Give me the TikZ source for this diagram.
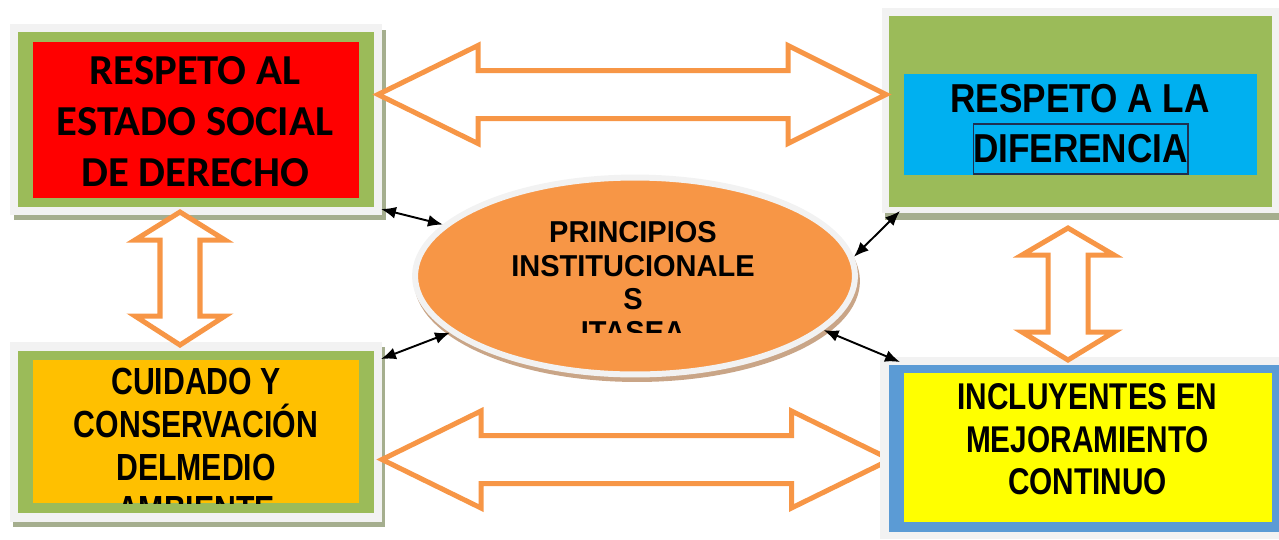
\documentclass[tikz,border=0pt]{standalone}
\usepackage{fontspec}
\setmainfont{Liberation Sans}
\newfontfamily\calibri{Carlito}
\newfontfamily\estrecha[FakeStretch=0.8]{Liberation Sans}
\newfontfamily\estrechados[FakeStretch=0.87]{Liberation Sans}
\newfontfamily\ovalada[FakeStretch=0.96]{Liberation Sans}
\usetikzlibrary{arrows.meta,shapes.geometric}

\definecolor{naranja}{HTML}{F79646}
\definecolor{verde}{HTML}{9BBB59}
\definecolor{grisclaro}{HTML}{F2F2F2}
\definecolor{sombra}{HTML}{A5AE8E}
\definecolor{sombraoval}{HTML}{C9A587}
\definecolor{rojo}{HTML}{FF0000}
\definecolor{celeste}{HTML}{00B0F0}
\definecolor{ambar}{HTML}{FFC000}
\definecolor{amarillo}{HTML}{FFFF00}
\definecolor{azulborde}{HTML}{5B9BD5}
\definecolor{azuloscuro}{HTML}{1F3050}
\newcommand{\pu}{0.569pt}

\begin{document}
\begin{tikzpicture}[x=0.02cm, y=-0.02cm,
  flecha/.style={draw=naranja, line width=2.85pt, fill=white, line join=miter},
  conector/.style={{Latex[length=8.5pt,width=6.8pt]}-{Latex[length=8.5pt,width=6.8pt]}, line width=1.1pt},
  texto/.style={inner sep=0pt, align=center, text=black}]
\useasboundingbox (0,0) rectangle (1279,539);

% respeto al estado social de derecho
\fill[sombra] (14,30) rectangle (386,220);
\fill[grisclaro] (10,24) rectangle (382,215);
\fill[verde] (18,32) rectangle (374,207);
\fill[rojo] (33,42) rectangle (359,198);
\node[texto, font=\calibri\bfseries\fontsize{24.3}{29}\selectfont] (derecho) at (195,121.5) {RESPETO AL\\ESTADO SOCIAL\\DE DERECHO};

% respeto a la diferencia
\fill[sombra] (885,14) rectangle (1279,220);
\fill[grisclaro] (882,8) rectangle (1279,213);
\fill[verde] (889,16) rectangle (1272,207);
\fill[celeste] (904,74) rectangle (1257,175);
\node[texto, font=\estrechados\bfseries\fontsize{23}{29}\selectfont] (respeto) at (1080,99) {RESPETO A LA};
\node[texto, draw=azuloscuro, line width=0.6pt, minimum width=215*\pu, minimum height=50*\pu,
  font=\estrechados\bfseries\fontsize{23}{29}\selectfont] (diferencia) at (1080.5,149) {DIFERENCIA};

% cuidado del medio ambiente
\fill[sombra] (13,347) rectangle (385,527);
\fill[grisclaro] (10,342) rectangle (382,522);
\fill[verde] (18,351) rectangle (374,513);
\fill[ambar] (33,360) rectangle (359,503);
\begin{scope}
\clip (33,360) rectangle (359,503);
\node[texto, font=\estrecha\bfseries\fontsize{21.5}{24.3}\selectfont] (medio) at (196,445.5) {CUIDADO Y\\CONSERVACIÓN\\DELMEDIO\\AMBIENTE};
\end{scope}

% ovalo central
\fill[sombraoval] (637,281) ellipse [x radius=223*\pu, y radius=101*\pu];
\node[ellipse, draw=grisclaro, line width=3.4pt, fill=naranja, minimum width=440*\pu, minimum height=197*\pu, inner sep=0pt] (principios) at (635,276) {};
\begin{scope}
\clip (450,180) rectangle (820,332);
\node[texto, font=\ovalada\bfseries\fontsize{17.2}{18.95}\selectfont] (lema) at (633,282.5) {PRINCIPIOS\\INSTITUCIONALE\\S\\ITASEA};
\end{scope}

% flechas grandes
\draw[flecha] (378,94.5) -- (478,45.5) -- (478,70.5) -- (788,70.5) -- (788,45.5) -- (886,94.5)
  -- (788,143.5) -- (788,118.5) -- (478,118.5) -- (478,143.5) -- cycle;
\draw[flecha] (180,212) -- (225,240) -- (200,240) -- (200,316) -- (225,316) -- (180,345)
  -- (135,316) -- (160,316) -- (160,240) -- (135,240) -- cycle;
\draw[flecha] (382,459.5) -- (481,411) -- (481,435.5) -- (791.5,435.5) -- (791.5,411) -- (890.5,459.5)
  -- (791.5,508) -- (791.5,483.5) -- (481,483.5) -- (481,508) -- cycle;

% incluyentes en mejoramiento continuo
\fill[grisclaro] (880,357) rectangle (1279,539);
\fill[azulborde] (889,365) rectangle (1279,532);
\fill[amarillo] (904,373) rectangle (1272,522);
\node[texto, font=\estrecha\bfseries\fontsize{21.2}{24.2}\selectfont] (continuo) at (1087.5,439.2) {INCLUYENTES EN\\MEJORAMIENTO\\CONTINUO};

\draw[flecha] (1068,228) -- (1114,255) -- (1088,255) -- (1088,332) -- (1114,332) -- (1068,360)
  -- (1022,332) -- (1048,332) -- (1048,255) -- (1022,255) -- cycle;

% conectores
\coordinate (esqA) at (381,209);
\coordinate (esqB) at (381,359);
\coordinate (esqC) at (900,211);
\coordinate (esqD) at (900,362);
\draw[conector] (esqA) -- (principios.165);
\draw[conector] (esqB) -- (principios.197);
\draw[conector] (esqC) -- (principios.5);
\draw[conector] (esqD) -- (principios.344);
\end{tikzpicture}
\end{document}
